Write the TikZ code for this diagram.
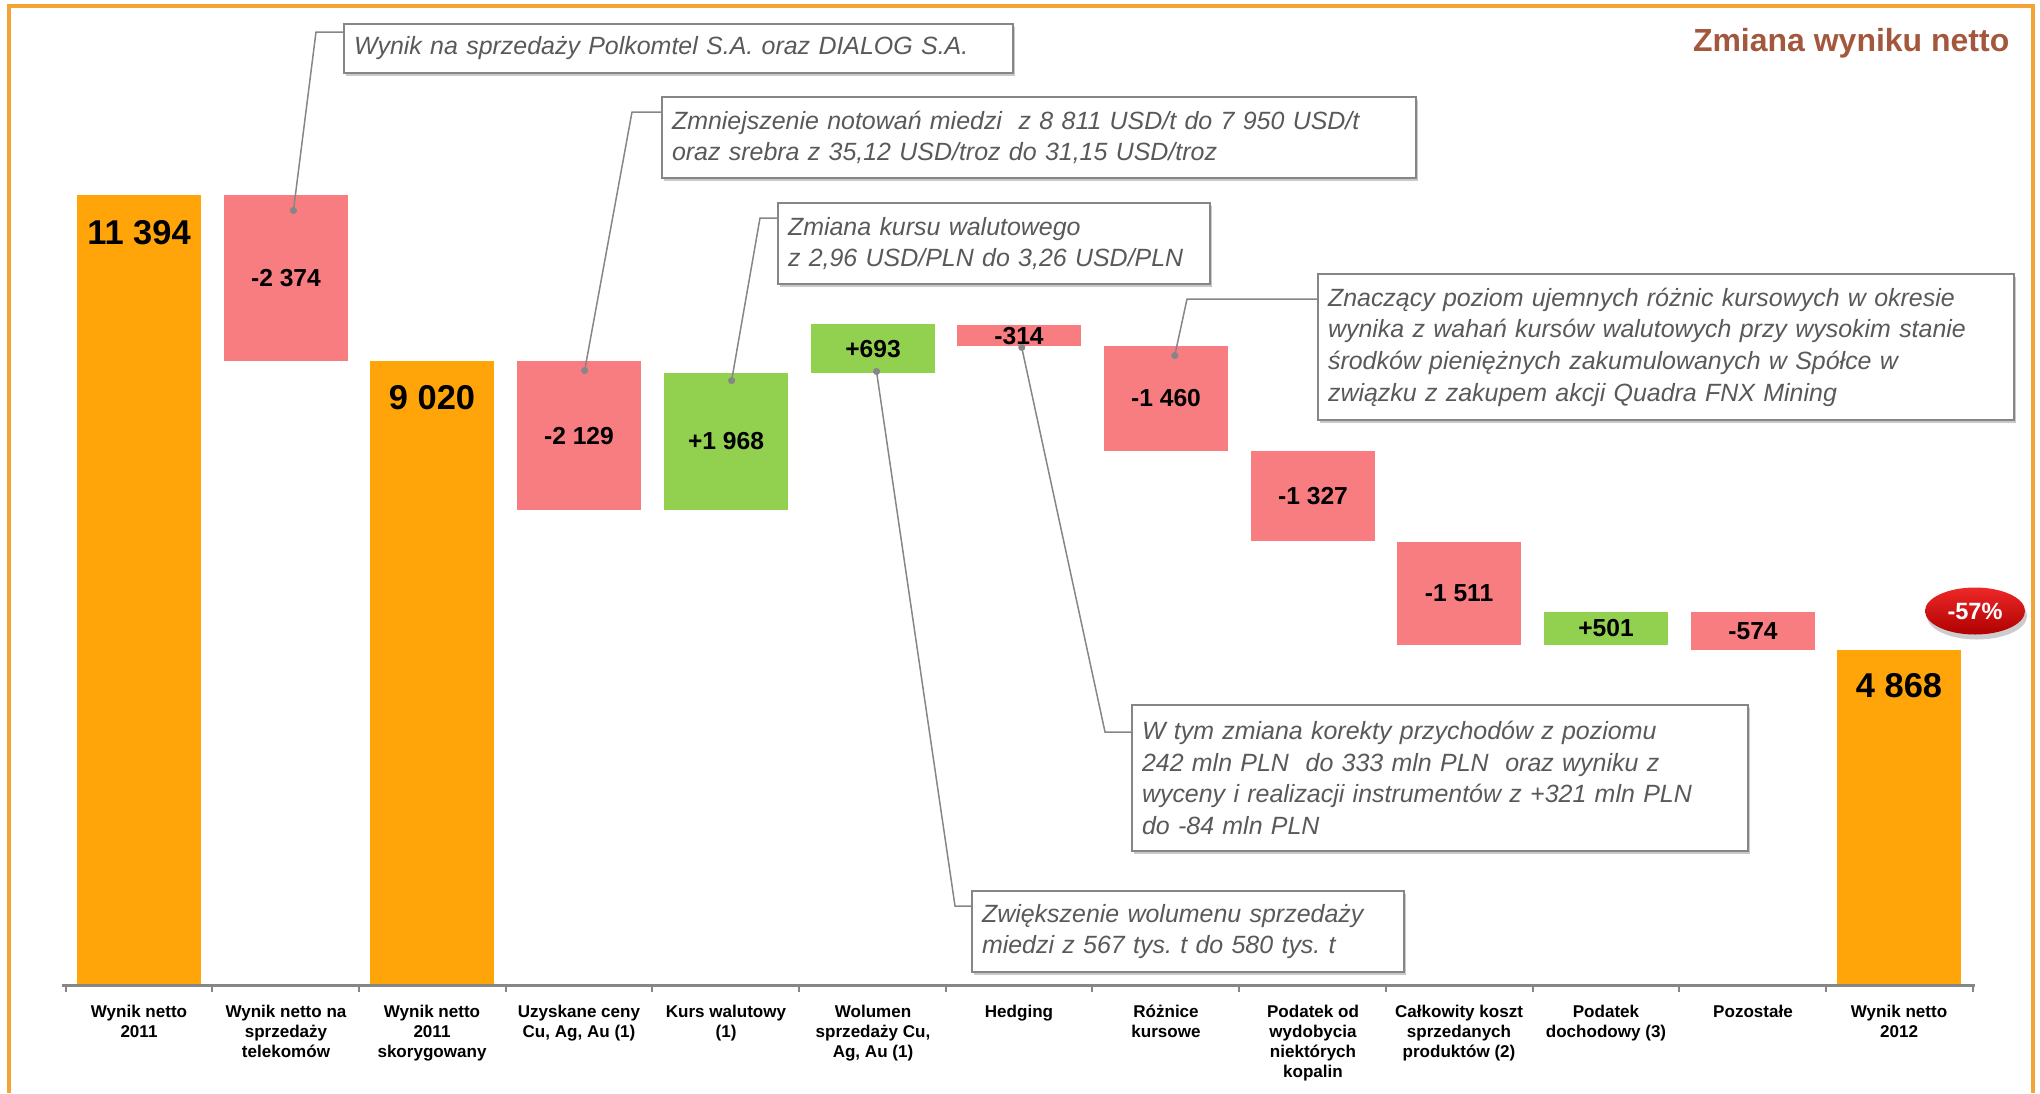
\documentclass[tikz,border=0pt]{standalone}
\usepackage{fontspec}
\setmainfont{Liberation Sans}
\usetikzlibrary{positioning,arrows.meta,shapes.geometric,shadows}

\definecolor{barorange}{RGB}{255,165,10}
\definecolor{barred}{RGB}{248,125,128}
\definecolor{bargreen}{RGB}{146,208,80}
\definecolor{framecolor}{RGB}{244,164,52}
\definecolor{titlebrown}{RGB}{163,88,62}
\definecolor{textgray}{RGB}{89,89,89}
\definecolor{linegray}{RGB}{134,134,134}
\definecolor{badgetop}{RGB}{238,40,40}
\definecolor{badgebottom}{RGB}{175,0,0}

\tikzset{
  frame/.style={draw=framecolor, line width=0.4mm},
  axis/.style={draw=linegray, line width=0.3mm},
  tick/.style={draw=linegray, line width=0.15mm},
  val/.style={font=\fontsize{7pt}{8pt}\selectfont\bfseries, inner sep=0pt},
  valbig/.style={font=\fontsize{9.8pt}{10pt}\selectfont\bfseries, inner sep=0pt},
  catlabel/.style={font=\fontsize{4.85pt}{5.7pt}\selectfont\bfseries, align=center, anchor=north, inner sep=0pt},
  callout/.style={draw=linegray, line width=0.2mm, fill=white, text=textgray,
    font=\fontsize{7.1pt}{9pt}\selectfont\itshape, align=left,
    inner xsep=1mm, inner ysep=0pt, anchor=north west,
    drop shadow={shadow xshift=0.15mm, shadow yshift=-0.25mm, fill=black!30, opacity=0.7}},
  leader/.style={draw=linegray, line width=0.15mm, -{Circle[length=0.7mm]}},
  badge/.style={ellipse, minimum width=10mm, minimum height=4.7mm, inner sep=0pt,
    top color=badgetop, bottom color=badgebottom, text=white,
    font=\fontsize{6.7pt}{7pt}\selectfont\bfseries,
    drop shadow={shadow xshift=0.2mm, shadow yshift=-0.5mm, fill=black!40, opacity=0.5}}
}

\begin{document}
\frenchspacing
\begin{tikzpicture}[x=0.1mm,y=-0.1mm]
\useasboundingbox (0,0) rectangle (2040,1093);

% ramka
\draw[frame] (9,1093) -- (9,6) -- (2033,6) -- (2033,1093);

% tytul
\node[anchor=base east, inner sep=0pt, text=titlebrown, font=\fontsize{9.1pt}{10pt}\selectfont\bfseries] (title) at (2010,51) {Zmiana wyniku netto};

% slupki
\fill[barorange] (77,195) rectangle (201,985);
\fill[barred] (224,195) rectangle (348,361);
\fill[barorange] (370,361) rectangle (494,985);
\fill[barred] (517,361) rectangle (641,510);
\fill[bargreen] (664,373) rectangle (788,510);
\fill[bargreen] (811,324) rectangle (935,373);
\fill[barred] (957,325) rectangle (1081,346);
\fill[barred] (1104,346) rectangle (1228,451);
\fill[barred] (1251,451) rectangle (1375,541);
\fill[barred] (1397,542) rectangle (1521,645);
\fill[bargreen] (1544,612) rectangle (1668,645);
\fill[barred] (1691,612) rectangle (1815,650);
\fill[barorange] (1837,650) rectangle (1961,985);

% wartosci
\node[valbig] (v1) at (139,233) {11 394};
\node[val] (v2) at (286,278) {-2 374};
\node[valbig] (v3) at (432,398) {9 020};
\node[val] (v4) at (579,436) {-2 129};
\node[val] (v5) at (726,441) {+1 968};
\node[val] (v6) at (873,349) {+693};
\node[val] (v7) at (1019,336) {-314};
\node[val] (v8) at (1166,398) {-1 460};
\node[val] (v9) at (1313,496) {-1 327};
\node[val] (v10) at (1459,593) {-1 511};
\node[val] (v11) at (1606,628) {+501};
\node[val] (v12) at (1753,631) {-574};
\node[valbig] (v13) at (1899,686) {4 868};

% os pozioma
\draw[axis] (62,985) -- (1975,985);
\foreach \t in {66,212,359,506,652,799,946,1092,1239,1386,1533,1679,1826,1973}
  \draw[tick] (\t,985) -- (\t,992);

% kategorie
\node[catlabel] (l1) at (139,1004) {Wynik netto\\2011};
\node[catlabel] (l2) at (286,1004) {Wynik netto na\\sprzedaży\\telekomów};
\node[catlabel] (l3) at (432,1004) {Wynik netto\\2011\\skorygowany};
\node[catlabel] (l4) at (579,1004) {Uzyskane ceny\\Cu, Ag, Au (1)};
\node[catlabel] (l5) at (726,1004) {Kurs walutowy\\(1)};
\node[catlabel] (l6) at (873,1004) {Wolumen\\sprzedaży Cu,\\Ag, Au (1)};
\node[catlabel] (l7) at (1019,1004) {Hedging};
\node[catlabel] (l8) at (1166,1004) {Różnice\\kursowe};
\node[catlabel] (l9) at (1313,1004) {Podatek od\\wydobycia\\niektórych\\kopalin};
\node[catlabel] (l10) at (1459,1004) {Całkowity koszt\\sprzedanych\\produktów (2)};
\node[catlabel] (l11) at (1606,1004) {Podatek\\dochodowy (3)};
\node[catlabel] (l12) at (1753,1004) {Pozostałe};
\node[catlabel] (l13) at (1899,1004) {Wynik netto\\2012};

% komentarze
\node[callout, text width=64.9mm, minimum height=4.9mm] (c1) at (343,23) {Wynik na sprzedaży Polkomtel S.A. oraz DIALOG S.A.};
\node[callout, text width=73.4mm, minimum height=8.1mm] (c2) at (661,96) {Zmniejszenie notowań miedzi~ z 8 811 USD/t do 7 950 USD/t\\oraz srebra z 35,12 USD/troz do 31,15 USD/troz};
\node[callout, text width=41.2mm, minimum height=8.1mm] (c3) at (777,202) {Zmiana kursu walutowego\\z 2,96 USD/PLN do 3,26 USD/PLN};
\node[callout, text width=67.6mm, minimum height=14.6mm] (c4) at (1317,273) {Znaczący poziom ujemnych różnic kursowych w okresie\\wynika z wahań kursów walutowych przy wysokim stanie\\środków pieniężnych zakumulowanych w Spółce w\\związku z zakupem akcji Quadra FNX Mining};
\node[callout, text width=59.6mm, minimum height=14.6mm] (c5) at (1131,704) {W tym zmiana korekty przychodów z poziomu\\242 mln PLN~ do 333 mln PLN~ oraz wyniku z\\wyceny i realizacji instrumentów z +321 mln PLN\\do -84 mln PLN};
\node[callout, text width=41.2mm, minimum height=8.1mm] (c6) at (971,890) {Zwiększenie wolumenu sprzedaży\\miedzi z 567 tys. t do 580 tys. t};

% punkty na slupkach
\coordinate (d1) at (293,214);
\coordinate (d2) at (584,374);
\coordinate (d3) at (731,384);
\coordinate (d4) at (1174,359);
\coordinate (d5) at (1021,344);
\coordinate (d6) at (876,368);

% linie odniesienia
\draw[leader] (c1.north west) ++(0,9) -- ++(-27,0) -- (d1);
\draw[leader] (c2.north west) ++(0,16) -- ++(-29,0) -- (d2);
\draw[leader] (c3.north west) ++(0,16) -- ++(-17,0) -- (d3);
\draw[leader] (c4.north west) ++(0,26) -- ++(-130,0) -- (d4);
\draw[leader] (c5.north west) ++(0,28) -- ++(-26,0) -- (d5);
\draw[leader] (c6.north west) ++(0,16) -- ++(-16,0) -- (d6);

% zmiana procentowa
\node[badge] (pct) at (1975,611) {-57\%};

\end{tikzpicture}
\end{document}
